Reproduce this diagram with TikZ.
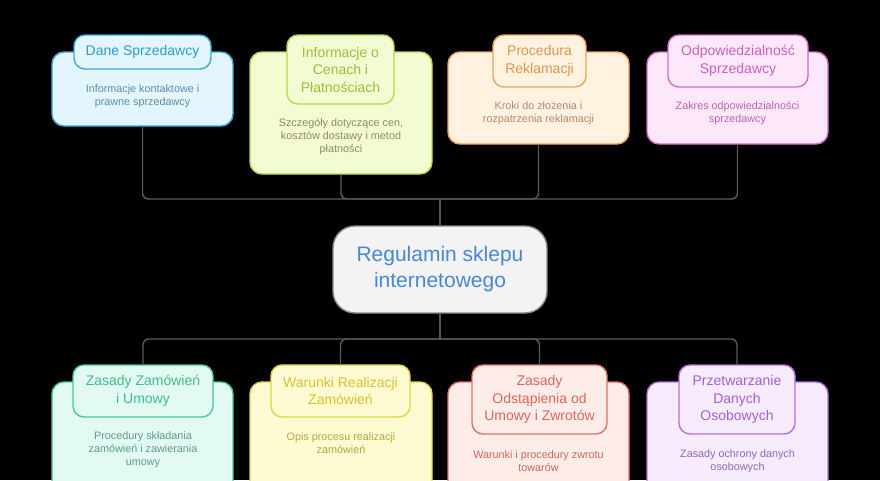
\documentclass[tikz,border=0pt]{standalone}
\usepackage{fontspec}
\setmainfont{Liberation Sans}
\usetikzlibrary{positioning}
\definecolor{bluefill}{HTML}{E3F6FD}
\definecolor{blueline}{HTML}{3AA9D8}
\definecolor{bluetext}{HTML}{2F9BCB}
\definecolor{bluedesc}{HTML}{5B8CAA}
\definecolor{limefill}{HTML}{F3FBD3}
\definecolor{limeline}{HTML}{B7D84C}
\definecolor{limetext}{HTML}{9DBC3A}
\definecolor{limedesc}{HTML}{868F62}
\definecolor{orangefill}{HTML}{FFF2E0}
\definecolor{orangeline}{HTML}{EDA35C}
\definecolor{orangetext}{HTML}{DE954C}
\definecolor{orangedesc}{HTML}{B08B6A}
\definecolor{pinkfill}{HTML}{FDE8FA}
\definecolor{pinkline}{HTML}{D56CC6}
\definecolor{pinktext}{HTML}{CC5FBC}
\definecolor{pinkdesc}{HTML}{BD62B0}
\definecolor{tealfill}{HTML}{E3FAF0}
\definecolor{tealline}{HTML}{46C99B}
\definecolor{tealtext}{HTML}{3BBE8E}
\definecolor{tealdesc}{HTML}{5C9C84}
\definecolor{yellowfill}{HTML}{FEFBD2}
\definecolor{yellowline}{HTML}{E4D548}
\definecolor{yellowtext}{HTML}{D6C232}
\definecolor{yellowdesc}{HTML}{B4A640}
\definecolor{redfill}{HTML}{FDECE8}
\definecolor{redline}{HTML}{E2736A}
\definecolor{redtext}{HTML}{DE655D}
\definecolor{reddesc}{HTML}{C8665F}
\definecolor{purplefill}{HTML}{F6ECFE}
\definecolor{purpleline}{HTML}{B66FE0}
\definecolor{purpletext}{HTML}{A45ED7}
\definecolor{purpledesc}{HTML}{9466BB}
\definecolor{centerfill}{HTML}{F3F3F3}
\definecolor{centerline}{HTML}{8A8A8A}
\definecolor{centertext}{HTML}{4A86D8}
\definecolor{linkgray}{HTML}{5A5A5A}
\tikzset{
  card/.style={draw=#1line, fill=#1fill, line width=1.4pt, rounded corners=12pt, inner sep=0pt},
  pill/.style={draw=#1line, fill=#1fill, line width=1.4pt, rounded corners=11pt, text=#1text, align=center, inner sep=0pt, font=\fontsize{14}{17.5}\selectfont},
  desc/.style={text=#1desc, align=center, inner sep=0pt, font=\fontsize{10.8}{13}\selectfont},
  link/.style={draw=linkgray, line width=1.4pt, rounded corners=6pt},
}

\begin{document}
\begin{tikzpicture}[x=1pt, y=-1pt]
  \useasboundingbox (0,0) rectangle (880,480);
  \fill[black] (0,0) rectangle (880,480);
  \clip (0,0) rectangle (880,480);

  % centre
  \node[draw=centerline, fill=centerfill, line width=1.4pt, rounded corners=22pt, minimum width=214pt, minimum height=87pt, align=center, text=centertext, font=\fontsize{21}{26}\selectfont] (reg) at (440,269.5) {Regulamin sklepu\\internetowego};
  \coordinate (hubT) at (440,199);
  \coordinate (hubB) at (440,339);

  % top row
  \node[card=blue, minimum width=181pt, minimum height=74pt] (dane) at (142.5,89) {};
  \node[pill=blue, minimum width=137pt, minimum height=34pt] (daneT) at (142.5,52) {Dane Sprzedawcy};
  \node[desc=blue] (daneD) at (142.5,96) {Informacje kontaktowe i\\prawne sprzedawcy};

  \node[card=lime, minimum width=182pt, minimum height=122pt] (ceny) at (341,113) {};
  \node[pill=lime, minimum width=107pt, minimum height=69pt] (cenyT) at (340.5,69.5) {Informacje o\\Cenach i\\Płatnościach};
  \node[desc=lime] (cenyD) at (341,137) {Szczegóły dotyczące cen,\\kosztów dostawy i metod\\płatności};

  \node[card=orange, minimum width=181pt, minimum height=92pt] (rekl) at (538.5,98) {};
  \node[pill=orange, minimum width=93pt, minimum height=52pt] (reklT) at (539.5,61) {Procedura\\Reklamacji};
  \node[desc=orange] (reklD) at (538.5,113) {Kroki do złożenia i\\rozpatrzenia reklamacji};

  \node[card=pink, minimum width=181pt, minimum height=92pt] (odp) at (737.5,98) {};
  \node[pill=pink, minimum width=140pt, minimum height=52pt] (odpT) at (738,61) {Odpowiedzialność\\Sprzedawcy};
  \node[desc=pink] (odpD) at (737.5,113) {Zakres odpowiedzialności\\sprzedawcy};

  % bottom row
  \node[card=teal, minimum width=181pt, minimum height=112pt] (zam) at (142.5,438) {};
  \node[pill=teal, minimum width=140pt, minimum height=52pt] (zamT) at (143,391) {Zasady Zamówień\\i Umowy};
  \node[desc=teal] (zamD) at (143,450) {Procedury składania\\zamówień i zawierania\\umowy};

  \node[card=yellow, minimum width=182pt, minimum height=112pt] (real) at (341,438) {};
  \node[pill=yellow, minimum width=139pt, minimum height=52pt] (realT) at (340.5,391) {Warunki Realizacji\\Zamówień};
  \node[desc=yellow] (realD) at (341,443.5) {Opis procesu realizacji\\zamówień};

  \node[card=red, minimum width=181pt, minimum height=112pt] (zwrot) at (538.5,438) {};
  \node[pill=red, minimum width=135pt, minimum height=69pt] (zwrotT) at (539.5,399.5) {Zasady\\Odstąpienia od\\Umowy i Zwrotów};
  \node[desc=red] (zwrotD) at (538.5,461.5) {Warunki i procedury zwrotu\\towarów};

  \node[card=purple, minimum width=181pt, minimum height=112pt] (dane2) at (737.5,438) {};
  \node[pill=purple, minimum width=116pt, minimum height=69pt] (dane2T) at (737,399.5) {Przetwarzanie\\Danych\\Osobowych};
  \node[desc=purple] (dane2D) at (737.5,461.5) {Zasady ochrony danych\\osobowych};

  % connectors
  \draw[link] (dane.south) |- (hubT);
  \draw[link] (ceny.south) |- (hubT);
  \draw[link] (rekl.south) |- (hubT);
  \draw[link] (odp.south) |- (hubT);
  \draw[link] (hubT) -- (reg.north);
  \draw[link] (reg.south) -- (hubB);
  \draw[link] (hubB) -| (zamT.north);
  \draw[link] (hubB) -| (realT.north);
  \draw[link] (hubB) -| (zwrotT.north);
  \draw[link] (hubB) -| (dane2T.north);
\end{tikzpicture}
\end{document}
